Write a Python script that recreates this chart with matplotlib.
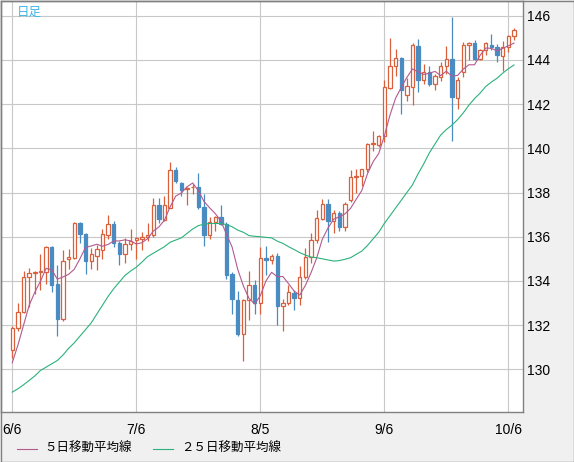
import matplotlib
matplotlib.use("Agg")
import matplotlib.pyplot as plt
from matplotlib.lines import Line2D
from matplotlib.patches import Rectangle
import numpy as np

# daily candles, 6/6 .. 10/7
opens = [130.86, 131.88, 132.61, 134.19, 134.37, 134.40, 134.40, 135.55, 133.84, 132.29,
         134.97, 135.05, 136.63, 136.14, 134.90, 135.13, 135.39, 136.10, 136.56, 135.73,
         135.23, 135.68, 135.85, 135.90, 136.00, 136.08, 137.42, 136.76, 137.32, 139.00,
         138.45, 138.15, 138.23, 138.27, 137.35, 136.08, 136.68, 136.90, 136.59, 134.32,
         133.15, 131.60, 133.15, 133.83, 133.00, 135.05, 134.95, 135.12, 132.85, 133.00,
         133.44, 133.24, 134.20, 135.07, 135.83, 136.79, 137.49, 136.69, 137.07, 136.43,
         137.66, 138.70, 138.76, 139.06, 140.19, 140.13, 140.54, 142.74, 143.74, 144.08,
         142.40, 142.78, 144.64, 143.08, 143.46, 142.93, 143.24, 143.74, 144.05, 142.29,
         143.46, 144.68, 144.76, 144.05, 144.46, 144.68, 144.58, 144.16, 144.58, 145.09]
highs = [131.98, 133.00, 134.45, 134.57, 134.45, 135.20, 135.60, 135.60, 134.70, 135.40,
         135.46, 136.68, 136.68, 136.18, 135.50, 135.62, 136.36, 137.00, 136.70, 135.80,
         135.95, 136.33, 136.00, 136.23, 136.64, 137.77, 137.77, 137.85, 139.39, 139.14,
         138.48, 138.23, 138.38, 138.90, 137.95, 136.90, 136.92, 137.43, 136.65, 134.40,
         133.56, 133.20, 134.47, 134.06, 135.53, 135.60, 135.20, 135.25, 133.20, 133.82,
         133.60, 134.68, 135.48, 136.19, 137.22, 137.70, 137.72, 137.22, 137.17, 137.55,
         139.00, 139.06, 139.08, 140.22, 140.80, 140.60, 143.08, 144.98, 144.49, 144.12,
         143.20, 144.75, 144.95, 143.81, 143.71, 143.35, 143.90, 144.64, 145.93, 143.23,
         144.79, 144.80, 144.88, 144.50, 144.80, 145.18, 144.70, 144.86, 145.12, 145.46]
lows = [130.50, 131.75, 132.56, 132.80, 133.40, 133.57, 133.84, 133.50, 131.50, 132.20,
        134.52, 135.00, 135.73, 134.30, 134.52, 134.48, 134.97, 135.90, 135.55, 134.74,
        134.82, 135.42, 134.97, 135.38, 135.80, 136.00, 136.64, 136.70, 137.30, 138.41,
        137.85, 137.42, 137.92, 137.25, 135.58, 135.88, 136.26, 136.55, 134.10, 132.50,
        131.53, 130.40, 132.24, 132.50, 132.50, 134.29, 134.77, 132.00, 131.74, 132.90,
        132.70, 132.91, 134.10, 134.80, 135.70, 136.75, 135.78, 136.16, 136.27, 136.27,
        137.56, 137.97, 138.30, 138.95, 139.90, 140.08, 140.27, 142.70, 143.29, 141.54,
        142.14, 141.94, 142.54, 142.89, 142.84, 142.63, 143.04, 143.34, 140.34, 141.79,
        143.23, 144.00, 144.00, 144.00, 144.20, 144.43, 143.89, 143.49, 144.34, 144.90]
closes = [131.88, 132.61, 134.19, 134.37, 134.40, 134.42, 135.55, 133.81, 132.29, 134.90,
          135.10, 136.63, 136.14, 134.90, 135.23, 135.43, 136.14, 136.56, 135.70, 135.24,
          135.68, 135.80, 135.92, 136.00, 136.10, 137.42, 136.79, 137.42, 139.02, 138.53,
          138.12, 138.20, 138.26, 137.35, 136.08, 136.68, 136.90, 136.59, 134.29, 133.20,
          131.60, 133.15, 133.83, 133.00, 135.05, 134.95, 135.12, 132.85, 133.00, 133.49,
          133.24, 134.20, 135.07, 135.86, 136.84, 137.49, 136.69, 137.07, 136.43, 137.49,
          138.70, 138.76, 139.06, 140.19, 140.23, 140.54, 142.78, 143.74, 144.08, 142.63,
          142.84, 144.68, 143.08, 143.46, 142.93, 143.26, 143.74, 144.05, 142.32, 143.11,
          144.68, 144.76, 144.04, 144.46, 144.76, 144.58, 144.20, 144.58, 145.09, 145.36]

ma5 = [130.30, 131.10, 132.00, 132.90, 133.49, 133.99, 134.57, 134.50, 134.08, 134.18,
       134.30, 134.53, 135.00, 135.52, 135.58, 135.66, 135.57, 135.65, 135.81, 135.81,
       135.86, 135.81, 135.67, 135.73, 135.91, 136.25, 136.44, 136.75, 137.35, 137.84,
       137.98, 138.26, 138.43, 138.09, 137.60, 137.31, 137.05, 136.72, 136.11, 135.53,
       134.52, 133.77, 133.21, 132.96, 133.33, 134.00, 134.39, 134.19, 134.20, 133.88,
       133.54, 133.36, 133.80, 134.37, 135.04, 135.89, 136.39, 136.79, 136.90, 137.03,
       137.28, 137.69, 138.09, 138.84, 139.39, 139.76, 140.56, 141.50, 142.27, 142.75,
       143.21, 143.59, 143.46, 143.34, 143.40, 143.48, 143.29, 143.49, 143.26, 143.30,
       143.58, 143.78, 143.78, 144.21, 144.54, 144.52, 144.41, 144.52, 144.64, 144.76]
ma25 = [128.97, 129.12, 129.30, 129.50, 129.70, 129.95, 130.10, 130.25, 130.40, 130.65,
        130.95, 131.20, 131.50, 131.80, 132.10, 132.50, 132.90, 133.30, 133.65, 133.95,
        134.25, 134.45, 134.62, 134.85, 135.10, 135.25, 135.40, 135.55, 135.75, 135.85,
        135.95, 136.15, 136.35, 136.50, 136.57, 136.60, 136.60, 136.60, 136.55, 136.45,
        136.30, 136.20, 136.05, 136.02, 136.00, 135.97, 135.95, 135.80, 135.70, 135.55,
        135.42, 135.28, 135.17, 135.08, 135.05, 135.00, 134.95, 134.90, 134.92, 134.98,
        135.05, 135.20, 135.35, 135.60, 135.90, 136.20, 136.60, 136.95, 137.30, 137.65,
        138.00, 138.35, 138.85, 139.30, 139.80, 140.20, 140.60, 140.85, 141.05, 141.30,
        141.60, 141.95, 142.25, 142.50, 142.80, 143.00, 143.17, 143.40, 143.60, 143.77]

tick_idx = [0, 22, 44, 66, 88]
tick_labels = ["6/6", "7/6", "8/5", "9/6", "10/6"]
price_ticks = [130, 132, 134, 136, 138, 140, 142, 144, 146]

W, H = 574, 462
fig = plt.figure(figsize=(W / 100, H / 100), dpi=100, facecolor="#f0f0f0")
ax = fig.add_axes([1 / W, 1 - 412 / H, 522 / W, 411 / H])
ax.set_facecolor("white")

up_col = "#d9603b"
dn_col = "#4a8bc2"
x = np.arange(len(opens))
o = np.array(opens); c = np.array(closes)
hi = np.array(highs); lo = np.array(lows)
up = c >= o

ax.vlines(x[up], lo[up], hi[up], color=up_col, lw=0.9, zorder=2)
ax.vlines(x[~up], lo[~up], hi[~up], color=dn_col, lw=0.9, zorder=2)
body_b = np.minimum(o, c)
body_h = np.maximum(np.abs(c - o), 0.04)
ax.bar(x[up], body_h[up], bottom=body_b[up], width=0.6,
       facecolor="white", edgecolor=up_col, lw=0.9, zorder=3)
ax.bar(x[~up], body_h[~up], bottom=body_b[~up], width=0.6,
       facecolor=dn_col, edgecolor=dn_col, lw=0.9, zorder=3)

ax.plot(x, ma5, color="#b35a8f", lw=0.8, zorder=4)
ax.plot(x, ma25, color="#2ab27b", lw=0.8, zorder=4)

ax.set_xlim(-2.0, 90.6)
ax.set_ylim(128.07, 146.665)
ax.set_xticks(tick_idx)
ax.set_xticklabels(tick_labels)
ax.set_yticks(price_ticks)
ax.set_yticklabels([str(p) for p in price_ticks])
ax.yaxis.tick_right()
ax.tick_params(length=0, labelsize=10, colors="black")
ax.tick_params(axis="x", pad=8)
ax.tick_params(axis="y", pad=3)
for lab in ax.get_xticklabels() + ax.get_yticklabels():
    lab.set_family("Liberation Sans")
ax.grid(True, color="#c8c8c8", lw=0.8)
ax.set_axisbelow(True)
for s in ax.spines.values():
    s.set_color("#808080")
    s.set_linewidth(1)

ax.text(16 / 522, 1 - 11 / 411, "日足", transform=ax.transAxes, color="#3fb6e8",
        fontsize=9, family=["Noto Sans CJK JP", "DejaVu Sans"], va="center", ha="left")

# legend drawn by hand along the bottom strip
ly = 1 - 448.5 / H
fig.add_artist(Line2D([16.5 / W, 36.5 / W], [ly, ly], color="#b35a8f", lw=0.8))
fig.text(44 / W, ly, "５日移動平均線", fontsize=9, va="center",
         family=["Noto Sans CJK JP", "DejaVu Sans"])
fig.add_artist(Line2D([153 / W, 173 / W], [ly, ly], color="#2ab27b", lw=0.8))
fig.text(181 / W, ly, "２５日移動平均線", fontsize=9, va="center",
         family=["Noto Sans CJK JP", "DejaVu Sans"])

fig.add_artist(Rectangle((0.5 / W, 0.5 / H), 1 - 1 / W, 1 - 1 / H, transform=fig.transFigure,
                         fill=False, edgecolor="#808080", lw=1))

fig.savefig("out.png", dpi=100, facecolor=fig.get_facecolor())
